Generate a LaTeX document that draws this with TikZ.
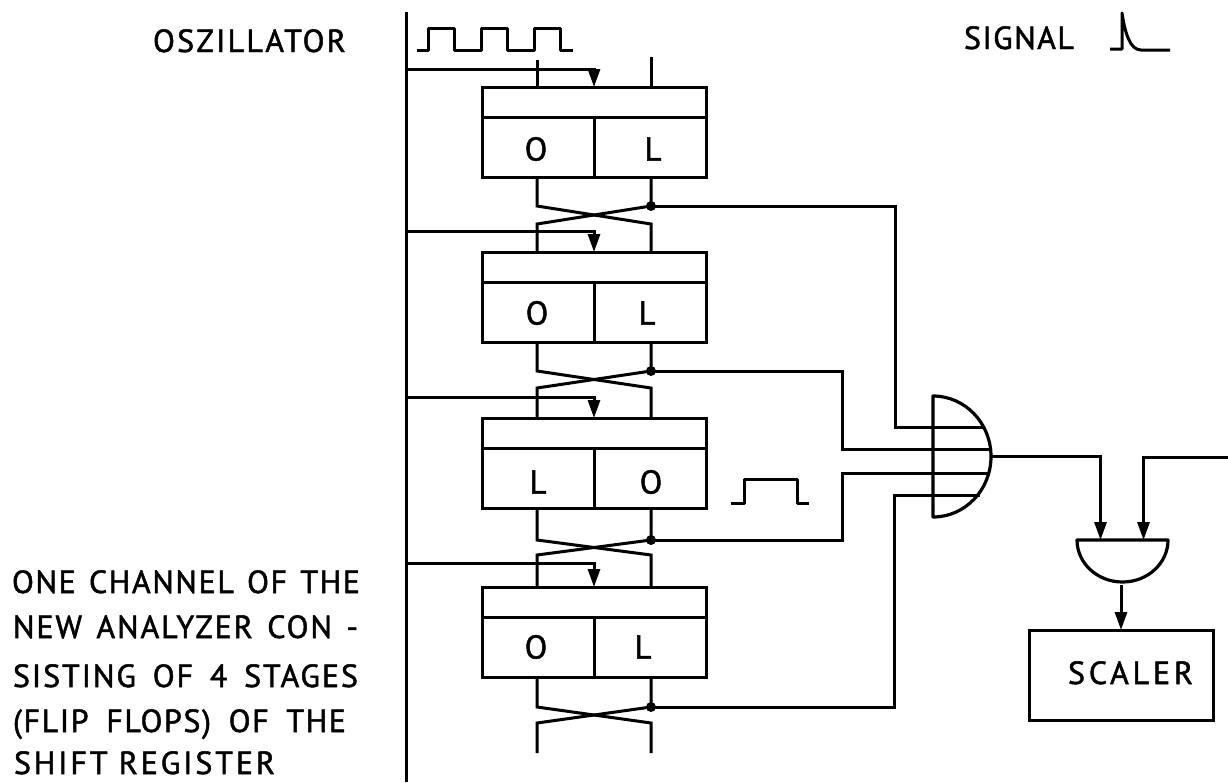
\documentclass[tikz,border=0pt]{standalone}
\usepackage{fontspec}
\setmainfont{PT Sans}
\newfontfamily\lettering[FakeBold=1.5]{PT Sans}
\usetikzlibrary{arrows.meta}
\newcommand{\fitline}[2]{\hbox to #1{\spaceskip=6pt plus 1fil #2}}
\newcommand{\spaced}[2]{{\addfontfeature{LetterSpace=#1}#2}}
\tikzset{
  x=1pt,y=-1pt,
  wire/.style={line width=3pt,line join=miter},
  arrowwire/.style={wire,-{Triangle[length=18pt,width=12pt]}},
  boxline/.style={draw,line width=3pt,inner sep=0pt,outer sep=0pt,anchor=north west},
  band/.style={boxline,minimum width=224pt,minimum height=30pt},
  cell/.style={boxline,minimum width=112pt,minimum height=60pt},
  txt/.style={inner sep=0pt,outer sep=0pt,anchor=base west,font=\lettering\fontsize{32}{32}\selectfont},
  bit/.style={inner sep=0pt,outer sep=0pt,font=\lettering\fontsize{33}{33}\selectfont},
  junction/.style={circle,fill,inner sep=0pt,minimum size=10pt},
  gate/.style={line width=3.2pt,line join=round},
  wave/.style={line width=3pt,line join=round}
}
\begin{document}
\begin{tikzpicture}
\useasboundingbox (0,0) rectangle (1228,782);
\fill[white] (0,0) rectangle (1228,782);
% texts
\node[txt] (osz) at (153,52) {\spaced{7}{OSZILLATOR}};
\node[txt] (sgn) at (964,49) {\spaced{4.5}{SIGNAL}};
\node[txt] (l1) at (12,593) {\spaced{5}{\fitline{348pt}{ONE CHANNEL OF THE}}};
\node[txt] (l2) at (13,638) {\spaced{6}{\fitline{345pt}{NEW ANALYZER CON -}}};
\node[txt] (l3) at (13,687) {\spaced{6}{\fitline{345pt}{SISTING OF 4 STAGES}}};
\node[txt] (l4) at (13,732) {\spaced{5}{\fitline{333pt}{(FLIP FLOPS) OF THE}}};
\node[txt] (l5) at (14,774) {\spaced{9}{\fitline{261pt}{SHIFT REGISTER}}};
% bus
\coordinate (bust) at (406,12);
\coordinate (busb) at (406,782);
\draw[wire] (bust) -- (busb);
% waveforms
\draw[wave] (416.5,50) -- (428,50) -- (428,28) -- (454,28) -- (454,50) -- (481,50) -- (481,28) -- (507,28) -- (507,50) -- (534,50) -- (534,28) -- (560,28) -- (560,50) -- (573,50);
\draw[wave] (1110,49) -- (1122,49) -- (1122,13) .. controls (1125,33) and (1130,50) .. (1141,50) -- (1170,50);
\draw[wave] (731,503) -- (744,503) -- (744,479) -- (797,479) -- (797,503) -- (809,503);
% stages: number / top / bus y / upper cross / lower cross / next lead end / left text, x, right text, x, y
\foreach \n/\tp/\bus/\cu/\cl/\nx/\la/\lax/\ra/\rax/\ty in {
  1/87/69/206/224/252/O/536/L/653/149,
  2/252/231/371/388/418/O/537/L/647/313,
  3/418/397/540/555/587/L/538/O/651/482,
  4/587/563/707/723/753/O/536/L/643/647}{
  \node[band] (h\n) at (482,\tp) {};
  \node[cell] (a\n) at (482,\tp+30) {};
  \node[cell] (b\n) at (594,\tp+30) {};
  \node[bit] (ta\n) at (\lax,\ty) {\la};
  \node[bit] (tb\n) at (\rax,\ty) {\ra};
  % clock arrow
  \coordinate (c\n) at (406,\bus);
  \coordinate (ct\n) at (594,\tp);
  \draw[arrowwire] (c\n) -| (ct\n);
  % outputs and cross
  \coordinate (ol\n) at (537,\tp+90);
  \coordinate (or\n) at (651,\tp+90);
  \coordinate (ul\n) at (537,\cu);
  \coordinate (d\n) at (651,\cu);
  \coordinate (ll\n) at (537,\cl);
  \coordinate (lr\n) at (651,\cl);
  \coordinate (nl\n) at (537,\nx);
  \coordinate (nr\n) at (651,\nx);
  \draw[wire] (ol\n) -- (ul\n) -- (lr\n) -- (nr\n);
  \draw[wire] (or\n) -- (d\n) -- (ll\n) -- (nl\n);
  \node[junction] (dot\n) at (d\n) {};
}
% top leads of the first stage
\coordinate (t1) at (537,60);
\coordinate (t2) at (651,57);
\coordinate (ta) at (537,87);
\coordinate (tb) at (651,87);
\draw[wire] (t1) -- (ta);
\draw[wire] (t2) -- (tb);
% first gate
\coordinate (g1t) at (933,396);
\coordinate (g1b) at (933,517);
\coordinate (g1o) at (991,456.5);
\draw[gate] (g1t) arc[start angle=90,end angle=-90,x radius=58pt,y radius=60.5pt] -- cycle;
\coordinate (w1) at (895,427);
\coordinate (w2) at (842,449);
\coordinate (w3) at (842,473);
\coordinate (w4) at (894,495);
\coordinate (i1) at (983,427);
\coordinate (i2) at (989,449);
\coordinate (i3) at (989,473);
\coordinate (i4) at (980,495);
\draw[wire] (d1) -| (w1) -- (i1);
\draw[wire] (d2) -| (w2) -- (i2);
\draw[wire] (d3) -| (w3) -- (i3);
\draw[wire] (d4) -| (w4) -- (i4);
% second gate
\coordinate (g2l) at (1077,540);
\coordinate (g2r) at (1168,540);
\draw[gate] (g2l) arc[start angle=180,end angle=360,x radius=45.5pt,y radius=42pt] -- cycle;
\coordinate (g2a) at (1100.5,540);
\coordinate (g2b) at (1143.5,540);
\coordinate (sig) at (1228,457);
\draw[arrowwire] (g1o) -| (g2a);
\draw[arrowwire] (sig) -| (g2b);
% scaler
\node[boxline,minimum width=184pt,minimum height=90pt] (scaler) at (1029,630) {};
\node[txt] (sct) at (1068,684) {\spaced{12}{SCALER}};
\coordinate (g2o) at (1121,585);
\draw[arrowwire] (g2o) -- (scaler.north);
\end{tikzpicture}
\end{document}
